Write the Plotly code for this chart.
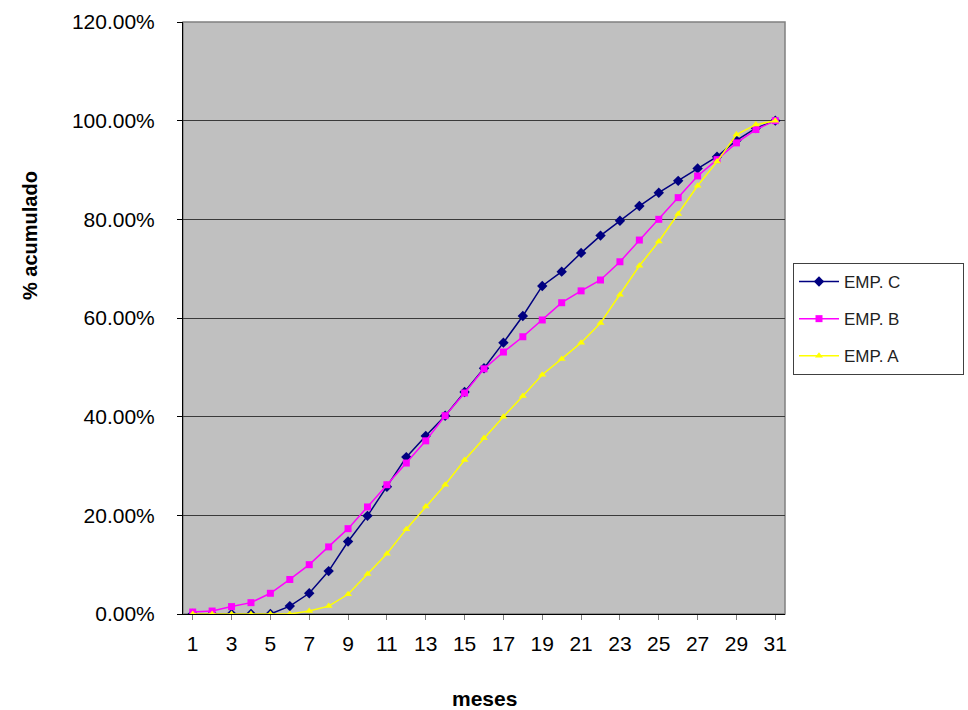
import plotly.graph_objects as go

meses = list(range(1, 32))
emp_c = [0, 0, 0, 0, 0, 1.6, 4.2, 8.7, 14.7, 19.9, 25.8, 31.8, 36.1, 40.2, 45.0, 49.8,
         55.0, 60.4, 66.5, 69.4, 73.2, 76.7, 79.7, 82.7, 85.4, 87.8, 90.3, 92.7, 96.0, 98.5, 100.0]
emp_b = [0.4, 0.6, 1.5, 2.3, 4.2, 7.0, 10.0, 13.6, 17.3, 21.7, 26.2, 30.6, 35.1, 40.2, 44.8, 49.7,
         53.1, 56.2, 59.6, 63.1, 65.5, 67.7, 71.4, 75.8, 80.0, 84.4, 88.8, 92.1, 95.5, 98.2, 100.0]
emp_a = [0, 0, 0, 0, 0, 0, 0.6, 1.6, 4.0, 8.1, 12.2, 17.2, 21.8, 26.2, 31.2, 35.7,
         40.0, 44.2, 48.5, 51.7, 55.0, 59.0, 64.7, 70.6, 75.5, 81.1, 86.8, 91.7, 97.2, 99.2, 100.0]
y_ticks = [0, 20, 40, 60, 80, 100, 120]
x_ticks = list(range(1, 32, 2))

FONT = "Liberation Sans, Arial, sans-serif"
PAD = "\u00a0" * 12

fig = go.Figure()
series = [
    ("EMP. C", emp_c, "#000080", "diamond", 8),
    ("EMP. B", emp_b, "#FF00FF", "square", 7),
    ("EMP. A", emp_a, "#FFFF00", "triangle-up", 7),
]
for i, (name, vals, col, sym, sz) in enumerate(series):
    fig.add_trace(go.Scatter(
        x=meses, y=[v / 100 for v in vals], name=name + PAD, mode="lines+markers",
        line=dict(color=col, width=1.5),
        marker=dict(color=col, symbol=sym, size=sz, line=dict(width=0)),
        legendgroup=f"g{i}",
    ))

fig.update_layout(
    width=968, height=710,
    margin=dict(l=183, r=183, t=22, b=96, autoexpand=False),
    paper_bgcolor="white",
    plot_bgcolor="#C0C0C0",
    font=dict(family=FONT, color="black"),
    showlegend=True,
    legend=dict(
        x=(793 - 183) / 602, y=(614 - 263) / 592, xanchor="left", yanchor="top",
        bgcolor="white", bordercolor="#404040", borderwidth=1,
        font=dict(size=17, family=FONT, color="#222"),
        tracegroupgap=12, itemwidth=40,
    ),
    xaxis=dict(
        range=[0.5, 31.5], tickmode="array", tickvals=x_ticks,
        ticktext=[str(t) for t in x_ticks],
        showgrid=False, zeroline=False, showline=True, linecolor="black", linewidth=1,
        ticks="outside", ticklen=5, tickcolor="#808080",
        tickfont=dict(size=21, family=FONT), ticklabelstandoff=6,
    ),
    yaxis=dict(
        range=[0, 1.2], tickmode="array", tickvals=[t / 100 for t in y_ticks],
        tickformat=".2%",
        showgrid=True, gridcolor="#3a3a3a", gridwidth=1, zeroline=False,
        showline=True, linecolor="black", linewidth=1,
        ticks="outside", ticklen=5, tickcolor="black",
        tickfont=dict(size=21, family=FONT), ticklabelstandoff=18,
    ),
    shapes=[dict(type="rect", xref="paper", yref="paper", x0=0, x1=1, y0=0, y1=1,
                 line=dict(color="#808080", width=1.5), layer="below")],
    annotations=[
        dict(text="<b>% acumulado</b>", xref="paper", yref="paper",
             x=-(183 - 30) / 602, y=(614 - 236) / 592, textangle=-90,
             showarrow=False, font=dict(size=20, family=FONT), xanchor="center", yanchor="middle"),
        dict(text="<b>meses</b>", xref="paper", yref="paper",
             x=0.5, y=-(698 - 614) / 592, showarrow=False,
             font=dict(size=21, family=FONT), xanchor="center", yanchor="middle"),
    ],
)

fig.write_html("out.html")
